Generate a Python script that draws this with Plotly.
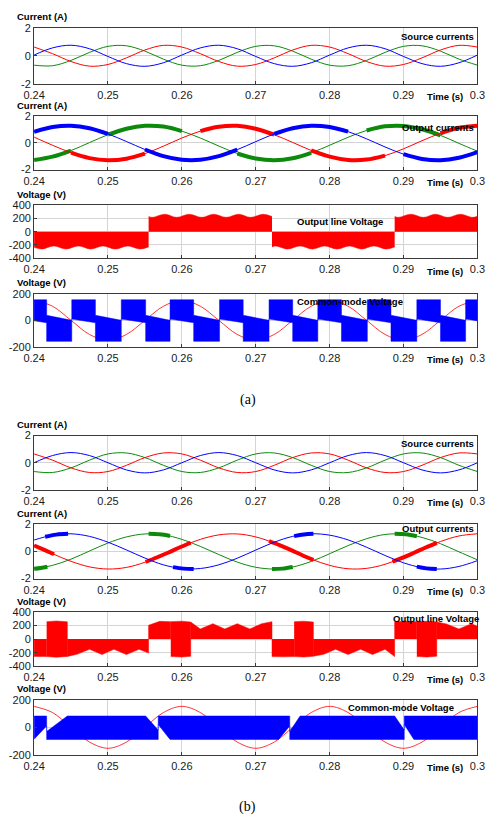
import numpy as np
import plotly.graph_objects as go

W, H = 496, 822

# ---------------- data ----------------
t_grid = [0.2400, 0.2425, 0.2450, 0.2475, 0.2500, 0.2525, 0.2550, 0.2575,
          0.2600, 0.2625, 0.2650, 0.2675, 0.2700, 0.2725, 0.2750, 0.2775,
          0.2800, 0.2825, 0.2850, 0.2875, 0.2900, 0.2925, 0.2950, 0.2975, 0.3000]

# (a) source currents, A
src_a_red = [0.62, 0.15, -0.41, -0.74, -0.62, -0.15, 0.41, 0.74,
             0.62, 0.15, -0.41, -0.74, -0.62, -0.15, 0.41, 0.74,
             0.62, 0.15, -0.41, -0.74, -0.62, -0.15, 0.41, 0.74, 0.62]
src_a_green = [-0.67, -0.71, -0.33, 0.24, 0.67, 0.71, 0.33, -0.24,
               -0.67, -0.71, -0.33, 0.24, 0.67, 0.71, 0.33, -0.24,
               -0.67, -0.71, -0.33, 0.24, 0.67, 0.71, 0.33, -0.24, -0.67]
src_a_blue = [0.05, 0.56, 0.75, 0.50, -0.05, -0.56, -0.75, -0.50,
              0.05, 0.56, 0.75, 0.50, -0.05, -0.56, -0.75, -0.50,
              0.05, 0.56, 0.75, 0.50, -0.05, -0.56, -0.75, -0.50, 0.05]

# (a) output currents, A
out_a_blue = [0.84, 1.20, 1.30, 1.11, 0.68, 0.11, -0.49, -0.99, -1.26, -1.26,
              -0.99, -0.50, 0.10, 0.68, 1.11, 1.30, 1.20, 0.85, 0.31, -0.30,
              -0.84, -1.20, -1.30, -1.11, -0.68]
out_a_red = [0.44, -0.17, -0.73, -1.14, -1.30, -1.18, -0.80, -0.24, 0.37, 0.89,
             1.22, 1.29, 1.07, 0.62, 0.04, -0.56, -1.03, -1.28, -1.25, -0.95,
             -0.44, 0.17, 0.73, 1.14, 1.30]
out_a_green = [-1.28, -1.03, -0.57, 0.03, 0.62, 1.07, 1.29, 1.23, 0.89, 0.37,
               -0.23, -0.79, -1.17, -1.30, -1.15, -0.74, -0.17, 0.43, 0.94, 1.25,
               1.28, 1.03, 0.57, -0.03, -0.62]

# (b) source currents, A
src_b_red = [0.65, 0.19, -0.38, -0.72, -0.65, -0.19, 0.38, 0.72,
             0.65, 0.19, -0.38, -0.72, -0.65, -0.19, 0.38, 0.72,
             0.65, 0.19, -0.38, -0.72, -0.65, -0.19, 0.38, 0.72, 0.65]
src_b_green = [-0.65, -0.72, -0.38, 0.19, 0.65, 0.72, 0.38, -0.19,
               -0.65, -0.72, -0.38, 0.19, 0.65, 0.72, 0.38, -0.19,
               -0.65, -0.72, -0.38, 0.19, 0.65, 0.72, 0.38, -0.19, -0.65]
src_b_blue = [0.00, 0.53, 0.75, 0.53, 0.00, -0.53, -0.75, -0.53,
              0.00, 0.53, 0.75, 0.53, 0.00, -0.53, -0.75, -0.53,
              0.00, 0.53, 0.75, 0.53, 0.00, -0.53, -0.75, -0.53, 0.00]

# (b) output currents, A
out_b_blue = [0.84, 1.20, 1.30, 1.11, 0.68, 0.11, -0.49, -0.99, -1.26, -1.26,
              -0.99, -0.50, 0.10, 0.68, 1.11, 1.30, 1.20, 0.85, 0.31, -0.30,
              -0.84, -1.20, -1.30, -1.11, -0.68]
out_b_red = [0.44, -0.17, -0.73, -1.14, -1.30, -1.18, -0.80, -0.24, 0.37, 0.89,
             1.22, 1.29, 1.07, 0.62, 0.04, -0.56, -1.03, -1.28, -1.25, -0.95,
             -0.44, 0.17, 0.73, 1.14, 1.30]
out_b_green = [-1.28, -1.03, -0.57, 0.03, 0.62, 1.07, 1.29, 1.23, 0.89, 0.37,
               -0.23, -0.79, -1.17, -1.30, -1.15, -0.74, -0.17, 0.43, 0.94, 1.25,
               1.28, 1.03, 0.57, -0.03, -0.62]

# (b) output currents: ripple (thick) portions
out_b_blue_thick_t = [0.2415, 0.2430, 0.2446, None, 0.2588, 0.2602, 0.2616, None,
                      0.2752, 0.2765, 0.2778, None, 0.2918, 0.2931, 0.2945]
out_b_blue_thick_v = [1.08, 1.24, 1.30, None, -1.16, -1.27, -1.30, None,
                      1.13, 1.25, 1.30, None, -1.12, -1.25, -1.30]
out_b_red_thick_t = [0.2400, 0.2413, 0.2427, None,
                     0.2551, 0.2566, 0.2581, 0.2596, 0.2612, None,
                     0.2718, 0.2733, 0.2748, 0.2763, 0.2778, None,
                     0.2885, 0.2900, 0.2915, 0.2930, 0.2945]
out_b_red_thick_v = [0.44, 0.13, -0.21, None,
                     -0.78, -0.45, -0.10, 0.27, 0.64, None,
                     0.77, 0.44, 0.09, -0.28, -0.62, None,
                     -0.76, -0.44, -0.08, 0.29, 0.63]
out_b_green_thick_t = [0.2400, 0.2409, 0.2418, None, 0.2555, 0.2570, 0.2584, None,
                       0.2722, 0.2736, 0.2750, None, 0.2888, 0.2903, 0.2918]
out_b_green_thick_v = [-1.28, -1.22, -1.13, None, 1.30, 1.26, 1.14, None,
                       -1.30, -1.27, -1.15, None, 1.30, 1.26, 1.12]

# (a) output line voltage: switching-envelope magnitude (V) and polarity segments
lv_a_env_t = [0.2400, 0.2410, 0.2427, 0.2443, 0.2460, 0.2477, 0.2493, 0.2510, 0.2527,
              0.2543, 0.2560, 0.2577, 0.2593, 0.2610, 0.2627, 0.2643, 0.2660, 0.2677,
              0.2693, 0.2710, 0.2727, 0.2743, 0.2760, 0.2777, 0.2793, 0.2810, 0.2827,
              0.2843, 0.2860, 0.2877, 0.2893, 0.2910, 0.2927, 0.2943, 0.2960, 0.2977,
              0.2993, 0.3000]
lv_a_env_v = [235, 262, 215, 262, 215, 262, 215, 262, 215, 262, 215, 262, 215, 262,
              215, 262, 215, 262, 215, 262, 215, 262, 215, 262, 215, 262, 215, 262,
              215, 262, 215, 262, 215, 262, 215, 262, 215, 230]
lv_a_seg_t0 = [0.2400, 0.2555, 0.2722, 0.2888]
lv_a_seg_t1 = [0.2555, 0.2722, 0.2888, 0.3000]
lv_a_seg_sign = [-1, 1, -1, 1]

# (b) output line voltage
lv_b_env_t = [0.2400, 0.2417, 0.2430, 0.2445, 0.2458, 0.2475, 0.2492, 0.2508, 0.2525,
              0.2542, 0.2555, 0.2570, 0.2585, 0.2600, 0.2612, 0.2625, 0.2642, 0.2658,
              0.2675, 0.2692, 0.2708, 0.2722, 0.2737, 0.2752, 0.2765, 0.2778, 0.2792,
              0.2808, 0.2825, 0.2842, 0.2858, 0.2875, 0.2888, 0.2903, 0.2918, 0.2932,
              0.2945, 0.2958, 0.2975, 0.2992, 0.3000]
lv_b_env_v = [255, 258, 268, 255, 225, 150, 228, 150, 228, 150, 205, 262, 258, 265,
              252, 150, 228, 150, 228, 150, 228, 258, 262, 258, 265, 252, 225, 150,
              228, 150, 228, 150, 258, 262, 258, 265, 252, 225, 150, 228, 190]
lv_b_seg_t0 = [0.2400, 0.2417, 0.2445, 0.2555, 0.2585, 0.2612, 0.2722, 0.2752, 0.2778,
               0.2888, 0.2918, 0.2945]
lv_b_seg_t1 = [0.2417, 0.2445, 0.2555, 0.2585, 0.2612, 0.2722, 0.2752, 0.2778, 0.2888,
               0.2918, 0.2945, 0.3000]
lv_b_seg_kind = ['neg', 'both', 'neg', 'pos', 'both', 'pos', 'neg', 'both', 'neg',
                 'pos', 'both', 'pos']

# common-mode reference sine (V)
cm_a_sine = [150, 106, 0, -106, -150, -106, 0, 106, 150, 106, 0, -106, -150, -106, 0,
             106, 150, 106, 0, -106, -150, -106, 0, 106, 150]
cm_b_sine = [152, 107, 0, -107, -152, -107, 0, 107, 152, 107, 0, -107, -152, -107, 0,
             107, 152, 107, 0, -107, -152, -107, 0, 107, 152]

# (a) common-mode voltage band: block edges and state (+1 upper band, -1 lower band)
cm_a_edges = [0.2384, 0.2417, 0.2451, 0.2483, 0.2518, 0.2551, 0.2584, 0.2616, 0.2651,
              0.2683, 0.2718, 0.2750, 0.2784, 0.2816, 0.2851, 0.2883, 0.2918, 0.2950,
              0.2984, 0.3017]
cm_a_state = [1, -1, 1, -1, 1, -1, 1, -1, 1, -1, 1, -1, 1, -1, 1, -1, 1, -1, 1]
# upper block: top, inner edge at start, inner edge at end
cm_a_upper = [155, 10, -18]
# lower block: bottom, inner edge at start, inner edge at end
cm_a_lower = [-158, 38, 0]

# (b) common-mode voltage band with notches
cm_b_t = [0.2400, 0.2417, 0.2417, 0.2445,
          0.2551, 0.2568, 0.2568, 0.2584,
          0.2731, 0.2746, 0.2746, 0.2760,
          0.2888, 0.2901, 0.2901, 0.2914, 0.3000]
cm_b_hi = [82, 82, -30, 82,
           82, -20, 82, 82,
           82, 82, -30, 82,
           82, -20, 82, 82, 82]
cm_b_lo = [-86, 10, -88, -88,
           -88, -88, 20, -88,
           -88, 10, -88, -88,
           -88, -88, 20, -88, -88]

# ---------------- layout geometry ----------------
x_ticks = [0.24, 0.25, 0.26, 0.27, 0.28, 0.29, 0.30]
x_ticktext = ['0.24', '0.25', '0.26', '0.27', '0.28', '0.29', '0.3']
panels_px = [(22, 79), (112, 166), (202, 256), (292, 346),
             (436, 491), (526, 581), (615, 670), (704, 760)]
PL, PR = 24, 485

RED = '#ff0000'
GREEN = '#0b8a0b'
BLUE = '#0000ff'
FONT = 'Arial'

fig = go.Figure()


def ax(i):
    return ('x' if i == 0 else f'x{i+1}'), ('y' if i == 0 else f'y{i+1}')


def line(i, x, y, color, width, shape='spline'):
    xa, ya = ax(i)
    fig.add_trace(go.Scatter(x=x, y=y, mode='lines', xaxis=xa, yaxis=ya,
                             line=dict(color=color, width=width, shape=shape),
                             hoverinfo='skip', showlegend=False))


def band(i, x, lo, hi, color):
    xa, ya = ax(i)
    fig.add_trace(go.Scatter(x=x, y=lo, mode='lines', line=dict(color=color, width=0.5),
                             xaxis=xa, yaxis=ya, hoverinfo='skip', showlegend=False))
    fig.add_trace(go.Scatter(x=x, y=hi, mode='lines', line=dict(color=color, width=0.5),
                             fill='tonexty', fillcolor=color,
                             xaxis=xa, yaxis=ya, hoverinfo='skip', showlegend=False))


def thick_mask(vals, thr):
    return [v if abs(v) >= thr else None for v in vals]


# panel 1: (a) source currents
for v, c in [(src_a_green, GREEN), (src_a_red, RED), (src_a_blue, BLUE)]:
    line(0, t_grid, v, c, 1.0)

# panel 2: (a) output currents
for v, c in [(out_a_green, GREEN), (out_a_red, RED), (out_a_blue, BLUE)]:
    line(1, t_grid, v, c, 1.0)
    line(1, t_grid, thick_mask(v, 0.48), c, 4.0)

# panel 3: (a) line voltage
env_t = np.array(lv_a_env_t)
env_v = np.array(lv_a_env_v, dtype=float)
for t0, t1, s in zip(lv_a_seg_t0, lv_a_seg_t1, lv_a_seg_sign):
    inside = (env_t > t0) & (env_t < t1)
    xs = [t0] + list(env_t[inside]) + [t1]
    ys = [s * np.interp(t0, env_t, env_v)] + list(s * env_v[inside]) + [s * np.interp(t1, env_t, env_v)]
    xa, ya = ax(2)
    fig.add_trace(go.Scatter(x=xs, y=ys, mode='lines', fill='tozeroy', fillcolor=RED,
                             line=dict(color=RED, width=0.5, shape='spline'),
                             xaxis=xa, yaxis=ya, hoverinfo='skip', showlegend=False))

# panel 4: (a) common-mode voltage (reference sine drawn under the band)
line(3, t_grid, cm_a_sine, RED, 0.8)
cm_t, cm_hi, cm_lo = [], [], []
for k, st in enumerate(cm_a_state):
    if st > 0:
        top, in0, in1 = cm_a_upper
        hi_pair, lo_pair = [top, top], [in0, in1]
    else:
        bot, in0, in1 = cm_a_lower
        hi_pair, lo_pair = [in0, in1], [bot, bot]
    cm_t += [cm_a_edges[k], cm_a_edges[k + 1]]
    cm_hi += hi_pair
    cm_lo += lo_pair
band(3, cm_t, cm_lo, cm_hi, BLUE)

# panel 5: (b) source currents
for v, c in [(src_b_green, GREEN), (src_b_red, RED), (src_b_blue, BLUE)]:
    line(4, t_grid, v, c, 1.0)

# panel 6: (b) output currents
for v, c, tt, tv in [(out_b_green, GREEN, out_b_green_thick_t, out_b_green_thick_v),
                     (out_b_red, RED, out_b_red_thick_t, out_b_red_thick_v),
                     (out_b_blue, BLUE, out_b_blue_thick_t, out_b_blue_thick_v)]:
    line(5, t_grid, v, c, 1.0)
    line(5, tt, tv, c, 4.0)

# panel 7: (b) line voltage
env_t = np.array(lv_b_env_t)
env_v = np.array(lv_b_env_v, dtype=float)
xa, ya = ax(6)
for t0, t1, kind in zip(lv_b_seg_t0, lv_b_seg_t1, lv_b_seg_kind):
    inside = (env_t > t0) & (env_t < t1)
    xs = [t0] + list(env_t[inside]) + [t1]
    mag = [np.interp(t0, env_t, env_v)] + list(env_v[inside]) + [np.interp(t1, env_t, env_v)]
    if kind == 'both':
        px = xs + xs[::-1]
        py = mag + [-m for m in mag[::-1]]
    else:
        s = 1 if kind == 'pos' else -1
        px = [t0] + xs + [t1]
        py = [0] + [s * m for m in mag] + [0]
    fig.add_trace(go.Scatter(x=px, y=py, mode='lines', fill='toself', fillcolor=RED,
                             line=dict(color=RED, width=0.5),
                             xaxis=xa, yaxis=ya, hoverinfo='skip', showlegend=False))

# panel 8: (b) common-mode voltage (reference sine drawn under the band)
line(7, t_grid, cm_b_sine, RED, 0.8)
band(7, cm_b_t, cm_b_lo, cm_b_hi, BLUE)

# ---------------- axes ----------------
y_specs = [
    ([-2, 2], [-2, 0, 2]),
    ([-2, 2], [-2, 0, 2]),
    ([-400, 400], [-400, -200, 0, 200, 400]),
    ([-200, 200], [-200, 0, 200]),
    ([-2, 2], [-2, 0, 2]),
    ([-2, 2], [-2, 0, 2]),
    ([-400, 400], [-400, -200, 0, 200, 400]),
    ([-200, 200], [-200, 0, 200]),
]
layout = {}
for i, ((top, bot), (yr, yt)) in enumerate(zip(panels_px, y_specs)):
    xa_name = 'xaxis' if i == 0 else f'xaxis{i+1}'
    ya_name = 'yaxis' if i == 0 else f'yaxis{i+1}'
    xa, ya = ax(i)
    common = dict(showgrid=True, gridcolor='#d4d4d4', gridwidth=1, zeroline=False,
                  showline=True, mirror=True, linecolor='#3a3a3a', linewidth=1,
                  ticks='inside', ticklen=3, tickcolor='#3a3a3a',
                  tickfont=dict(family=FONT, size=11, color='#1a1a1a'))
    layout[xa_name] = dict(domain=[PL / W, PR / W], range=[0.24, 0.30], anchor=ya,
                           tickvals=x_ticks, ticktext=x_ticktext, ticklabelstandoff=1,
                           **common)
    layout[ya_name] = dict(domain=[1 - bot / H, 1 - top / H], range=yr, anchor=xa,
                           tickvals=yt, ticktext=[str(v) for v in yt], **common)

annotations = []


def text(xpx, ypx, s, anchor='left', size=9.5, bold=True, family=FONT):
    annotations.append(dict(x=xpx / W, y=1 - ypx / H, xref='paper', yref='paper',
                            text=f'<b>{s}</b>' if bold else s, showarrow=False,
                            xanchor=anchor, yanchor='middle',
                            font=dict(family=family, size=size, color='#000000')))


ytitles = ['Current (A)', 'Current (A)', 'Voltage (V)', 'Voltage (V)',
           'Current (A)', 'Current (A)', 'Voltage (V)', 'Voltage (V)']
for (top, bot), s in zip(panels_px, ytitles):
    text(4, top - 11, s)
    text(451, bot + 13, 'Time (s)', anchor='center')

text(484, 31, 'Source currents', anchor='right')
text(484, 123, 'Output currents', anchor='right')
text(342, 219, 'Output line Voltage', anchor='center')
text(353, 300, 'Common-mode Voltage', anchor='center')
text(484, 444, 'Source currents', anchor='right')
text(484, 530, 'Output currents', anchor='right')
text(442, 622, 'Output line Voltage', anchor='center')
text(406, 712, 'Common-mode Voltage', anchor='center')
text(246, 400, '(a)', anchor='center', size=14, bold=False, family='Times New Roman')
text(246, 813, '(b)', anchor='center', size=14, bold=False, family='Times New Roman')

fig.update_layout(width=W, height=H, margin=dict(l=0, r=0, t=0, b=0),
                  paper_bgcolor='white', plot_bgcolor='white',
                  showlegend=False, annotations=annotations, **layout)

fig.write_html('out.html')
